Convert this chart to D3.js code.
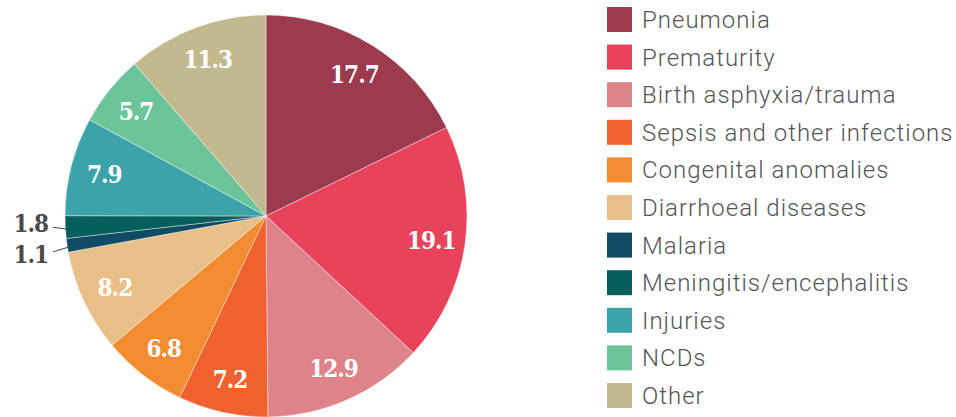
<!DOCTYPE html>
<html>
<head>
<meta charset="utf-8">
<script src="https://cdn.jsdelivr.net/npm/d3@7"></script>
<style>
    body { margin: 0; background: #fff; }
    .legend-text { font-family: Roboto, sans-serif; font-weight: 300; font-size: 24px; letter-spacing: 1px; fill: #555; }
    .val { font-family: "DejaVu Serif Condensed", "DejaVu Serif", serif; font-stretch: condensed; font-weight: bold; font-size: 24px; letter-spacing: -1px; }
</style>
</head>
<body>
<div id="chart"></div>
<script>
var categories = ["Pneumonia", "Prematurity", "Birth asphyxia/trauma", "Sepsis and other infections",
    "Congenital anomalies", "Diarrhoeal diseases", "Malaria", "Meningitis/encephalitis",
    "Injuries", "NCDs", "Other"];
var values = [17.7, 19.1, 12.9, 7.2, 6.8, 8.2, 1.1, 1.8, 7.9, 5.7, 11.3];
var colors = ["#9c3a4e", "#e9435c", "#de8389", "#ef6230", "#f38b30", "#e8bf88",
    "#114a63", "#065f5d", "#3ca3ab", "#6cc59a", "#c3b98f"];
// small slices get their label outside with a leader line
var outside = ["Malaria", "Meningitis/encephalitis"];

var width = 956, height = 417;
var cx = 266, cy = 216, radius = 201;

var svg = d3.select("#chart").append("svg")
    .attr("width", width)
    .attr("height", height);

var data = categories.map(function(c, i){
    return {name: c, value: values[i]};
});

var color = d3.scaleOrdinal()
    .domain(categories)
    .range(colors);

var pie = d3.pie()
    .sort(null)
    .value(function(d){ return d.value; });

var arc = d3.arc()
    .innerRadius(0)
    .outerRadius(radius);

var labelArc = d3.arc()
    .innerRadius(167)
    .outerRadius(167);

var g = svg.append("g")
    .attr("transform", "translate(" + cx + "," + cy + ")");

var arcs = pie(data);

g.selectAll("path")
    .data(arcs)
    .enter().append("path")
    .attr("d", arc)
    .attr("fill", function(d){ return color(d.data.name); })
    .attr("stroke", "#fff")
    .attr("stroke-width", 0.4);

// inside labels
g.selectAll(".val-in")
    .data(arcs.filter(function(d){ return outside.indexOf(d.data.name) < 0; }))
    .enter().append("text")
    .attr("class", "val val-in")
    .attr("fill", "#fff")
    .attr("text-anchor", "middle")
    .attr("dy", "0.36em")
    .attr("transform", function(d){ return "translate(" + labelArc.centroid(d) + ")"; })
    .text(function(d){ return d.data.value.toFixed(1); });

// outside labels, spread apart so they don't collide
var outs = arcs.filter(function(d){ return outside.indexOf(d.data.name) >= 0; })
    .map(function(d){
        var a = (d.startAngle + d.endAngle) / 2;
        return {d: d, px: Math.sin(a) * (radius - 1), py: -Math.cos(a) * (radius - 1)};
    })
    .sort(function(a, b){ return a.py - b.py; });

var gap = 31;
var meanY = d3.mean(outs, function(o){ return o.py; });
outs.forEach(function(o, i){
    o.ly = meanY + (i - (outs.length - 1) / 2) * gap + 3;
});

var ex = -radius - 12;
outs.forEach(function(o){
    g.append("line")
        .attr("x1", ex).attr("y1", o.ly + (o.py - o.ly) * 0.5 + 2)
        .attr("x2", o.px).attr("y2", o.py + 2)
        .attr("stroke", "#444")
        .attr("stroke-width", 1);
    g.append("text")
        .attr("class", "val")
        .attr("fill", "#4a4a4a")
        .attr("text-anchor", "end")
        .attr("x", ex - 5)
        .attr("y", o.ly)
        .attr("dy", "0.36em")
        .text(o.d.data.value.toFixed(1));
});

// legend
var legend = svg.append("g")
    .attr("transform", "translate(607,7)");

var item = legend.selectAll(".item")
    .data(categories)
    .enter().append("g")
    .attr("class", "item")
    .attr("transform", function(d, i){ return "translate(0," + (i * 37.6) + ")"; });

item.append("rect")
    .attr("width", 25)
    .attr("height", 25)
    .attr("fill", function(d){ return color(d); });

item.append("text")
    .attr("class", "legend-text")
    .attr("x", 35)
    .attr("y", 12.5)
    .attr("dy", "0.35em")
    .text(function(d){ return d; });
</script>
</body>
</html>
